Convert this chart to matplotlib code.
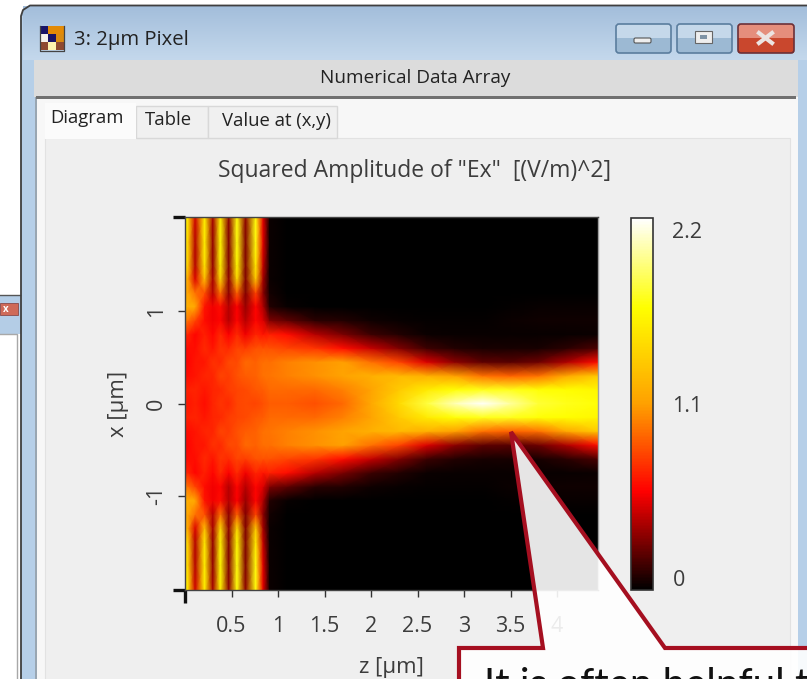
import numpy as np
import matplotlib
matplotlib.use("Agg")
import matplotlib.pyplot as plt
from matplotlib.colors import LinearSegmentedColormap
from matplotlib.patches import FancyBboxPatch, Polygon, Rectangle

W, H = 807, 679

# valeurs : amplitude au carré, moitié haute du champ (x >= 0)
z_nodes = [0.0, 0.03, 0.11, 0.21, 0.30, 0.38, 0.47, 0.56, 0.65, 0.76, 0.84, 0.91,
           1.1, 1.4, 1.7, 2.0, 2.3, 2.6, 2.9, 3.2, 3.5, 3.8, 4.1, 4.44]
x_nodes = [0.0, 0.15, 0.3, 0.45, 0.6, 0.75, 0.9, 1.05, 1.2, 1.35, 1.5, 1.75, 2.02]
field_half = [
    [.70, .65, .68, .62, .70, .75, .72, .80, .82, .80, .84, .88, .88, .84, .92, 1.15, 1.45, 1.8, 2.05, 2.2, 2.0, 1.78, 1.72, 1.68],
    [.72, .68, .70, .66, .70, .72, .78, .80, .82, .86, .88, .92, .92, .92, 1.0, 1.12, 1.35, 1.55, 1.68, 1.72, 1.72, 1.68, 1.66, 1.62],
    [.62, .62, .65, .70, .70, .80, .78, .85, .88, .90, .95, .96, 1.0, 1.05, 1.12, 1.2, 1.25, 1.2, 1.1, .95, .90, .95, 1.15, 1.35],
    [.60, .60, .65, .66, .74, .72, .82, .82, .92, .90, .94, .94, 1.0, 1.05, 1.1, .95, .80, .50, .32, .22, .20, .25, .40, .62],
    [.60, .62, .62, .72, .65, .75, .72, .80, .78, .85, .85, .85, .80, .75, .62, .45, .30, .14, .08, .06, .06, .06, .10, .18],
    [.68, .70, .60, .68, .60, .72, .58, .72, .55, .70, .65, .68, .62, .42, .28, .14, .08, .03, .02, .02, .02, .02, .02, .03],
    [1.0, .95, .80, .62, .55, .60, .42, .60, .42, .60, .50, .30, .22, .10, .08, .04, .02, .01, .01, .01, .03, .04, .04, .04],
    [1.25, 1.2, 1.15, .65, .55, .62, .42, .58, .35, .60, .40, .08, .02, 0, 0, 0, 0, 0, 0, 0, .01, .02, .02, .02],
    [1.1, 1.15, .95, .85, .42, .95, .32, .90, .30, .80, .32, .05, 0, 0, 0, 0, 0, 0, 0, 0, 0, 0, 0, 0],
    [1.25, 1.15, .50, 1.3, .38, 1.45, .32, 1.45, .30, 1.35, .38, .03, 0, 0, 0, 0, 0, 0, 0, 0, 0, 0, 0, 0],
    [1.5, 1.4, .42, 1.55, .34, 1.6, .30, 1.65, .30, 1.55, .45, .03, 0, 0, 0, 0, 0, 0, 0, 0, 0, 0, 0, 0],
    [1.5, 1.45, .42, 1.6, .34, 1.65, .30, 1.7, .30, 1.7, .52, .03, 0, 0, 0, 0, 0, 0, 0, 0, 0, 0, 0, 0],
    [1.55, 1.55, .48, 1.6, .38, 1.6, .32, 1.7, .32, 1.7, .52, .03, 0, 0, 0, 0, 0, 0, 0, 0, 0, 0, 0, 0],
]
z_ticks = [0.5, 1, 1.5, 2, 2.5, 3, 3.5, 4]
z_labels = ["0.5", "1", "1.5", "2", "2.5", "3", "3.5", "4"]
x_ticks = [-1, 0, 1]
x_labels = ["-1", "0", "1"]
cbar_ticks = [0.07, 1.1, 2.13]
cbar_labels = ["0", "1.1", "2.2"]
vmax = 2.2

title = 'Squared Amplitude of "Ex"  [(V/m)^2]'
window_title = "3: 2µm Pixel"
panel_title = "Numerical Data Array"
tabs = ["Diagram", "Table", "Value at (x,y)"]
callout = "It is often helpful to"

plt.rcParams["font.family"] = ["Open Sans", "DejaVu Sans"]
text_col = "#3c3c3c"


def px_axes(fig, left, top, right, bottom, **kw):
    return fig.add_axes([left / W, 1 - bottom / H, (right - left) / W, (bottom - top) / H], **kw)


fig = plt.figure(figsize=(W / 100, H / 100), dpi=100, facecolor="white")

# fond : la fenêtre en coordonnées pixels
bg = px_axes(fig, 0, 0, W, H, zorder=0)
bg.set_axis_off()

# fenêtre derrière, à gauche
bg.add_patch(Rectangle((0, 295), 21, 39, fc="#b4cde6", ec="none"))
bg.plot([0, 20], [294.5, 294.5], color="#555555", lw=1)
bg.add_patch(Rectangle((0, 303), 18, 12, fc="#cf6a58", ec="#8a4a4a", lw=0.6))
bg.text(6, 309, "x", color="white", fontsize=7, weight="bold", ha="center", va="center")
bg.add_patch(Rectangle((-2, 334), 19, 350, fc="white", ec="#a8a8a8", lw=1))

# cadre bleu
grad = np.linspace(0, 1, 64).reshape(-1, 1)
frame_cmap = LinearSegmentedColormap.from_list("frame", ["#a3bedb", "#c4d8ec"])
bg.add_patch(Rectangle((21, 15), W, H, fc="#b6cfe8", ec="none"))
bg.add_patch(Rectangle((30, 5), W, 12, fc="#a3bedb", ec="none"))
bg.add_patch(Polygon([(21, 16), (23, 10), (30, 5), (30, 16)], fc="#a3bedb", ec="none"))
bg.imshow(grad, cmap=frame_cmap, extent=(23, W, 60, 6), aspect="auto", zorder=1.5)
bg.plot([21, 21, 23, 30, W], [H, 16, 10, 5.5, 5.5], color="#3f3f3f", lw=1.3, zorder=3)
bg.add_patch(Rectangle((37, 60), 761, H, fc="#f7f7f7", ec="none", zorder=2))
bg.add_patch(Rectangle((34.5, 60), 2.5, H, fc="#8e959c", ec="none", zorder=2, alpha=0.7))
bg.add_patch(Rectangle((34, 60), 764, 37, fc="#dcdcdc", ec="none", zorder=2))
bg.add_patch(Rectangle((36, 96), 760, 3, fc="#707070", ec="none", zorder=2))
bg.add_patch(Rectangle((45, 138), 745, H, fc="#efefef", ec="#e2e2e2", lw=0.8, zorder=2))

# onglets
for (x0, y0, x1), label, cx, cy in zip([(136, 106, 208), (208, 106, 337)], tabs[1:], [168, 276], [120, 121]):
    bg.add_patch(Rectangle((x0, y0), x1 - x0, 138 - y0, fc="#f0f0f0", ec="#d8d8d8", lw=1, zorder=2.5))
    bg.text(cx, cy, label, fontsize=13.3, color="#222222", ha="center", va="center", zorder=4)
bg.add_patch(Rectangle((45, 103), 91, 36, fc="#fbfbfb", ec="none", zorder=2.6))
bg.text(87, 118, tabs[0], fontsize=13.3, color="#222222", ha="center", va="center", zorder=4)

# boutons de la barre de titre
buttons = [(616, 671, "#c5d8ea", "#9cb9d3", "#5a7d9e"),
           (677, 732, "#c5d8ea", "#9cb9d3", "#5a7d9e"),
           (738, 794, "#e58e7c", "#c9472d", "#6b3038")]
for x0, x1, top_col, low_col, edge in buttons:
    bg.add_patch(Rectangle((x0, 24), x1 - x0, 14, fc=top_col, ec="none", zorder=3))
    bg.add_patch(Rectangle((x0, 38), x1 - x0, 15, fc=low_col, ec="none", zorder=3))
    bg.add_patch(FancyBboxPatch((x0, 24), x1 - x0, 29, boxstyle="round,pad=0,rounding_size=3",
                                fc="none", ec=edge, lw=1.2, zorder=3.2))
bg.add_patch(FancyBboxPatch((634, 38), 17, 5, boxstyle="round,pad=0,rounding_size=1.5",
                            fc="#eeeeee", ec="#555555", lw=0.8, zorder=4))
bg.add_patch(Rectangle((695, 31), 17, 12, fc="#eeeeee", ec="#666666", lw=0.8, zorder=4))
bg.add_patch(Rectangle((700, 35), 7, 4, fc="#7f93a5", ec="none", zorder=4.1))
bg.plot([759, 772], [33, 43], color="#ece4e2", lw=3, zorder=4)
bg.plot([759, 772], [43, 33], color="#ece4e2", lw=3, zorder=4)

# icône et titres
icon_cols = [["#1a1466", "#e38a05", "#e38a05"],
             ["#f5f2ea", "#1a1466", "#d98a10"],
             ["#8f4a30", "#fdf3b0", "#8f4a30"]]
for i, row in enumerate(icon_cols):
    for j, col in enumerate(row):
        bg.add_patch(Rectangle((40 + j * 8, 26 + i * 8), 8, 8, fc=col, ec="none", zorder=4))
bg.plot([40, 40, 64, 64], [26, 51, 51, 26], color="#444444", lw=0.9, zorder=4)
bg.text(74, 40, window_title, fontsize=14.6, color="#222222", va="center", zorder=4)
bg.text(415, 78, panel_title, fontsize=13.7, color="#222222", ha="center", va="center", zorder=4)
bg.text(415, 171, title, fontsize=16.5, color=text_col, ha="center", va="center", zorder=4)
bg.set_xlim(0, W)
bg.set_ylim(H, 0)

# carte de champ
colors = [(0, "#000000"), (0.265, "#ff0000"), (0.5, "#ffa000"), (0.76, "#ffff00"), (1, "#ffffff")]
cmap = LinearSegmentedColormap.from_list("champ", colors)

half = np.array(field_half)
x_all = np.concatenate([-np.array(x_nodes[:0:-1]), x_nodes])
field = np.vstack([half[:0:-1], half])

ax = px_axes(fig, 185, 217, 598, 590, zorder=1)
mesh = ax.pcolormesh(z_nodes, x_all, field, cmap=cmap, vmin=0, vmax=vmax,
                     shading="gouraud", rasterized=True)
ax.set_xlim(0, 4.44)
ax.set_ylim(-2.02, 2.02)
ax.set_xticks(z_ticks, z_labels)
ax.set_yticks(x_ticks, x_labels)
ax.tick_params(axis="x", length=5, width=1, color="#333333", labelsize=15.5, labelcolor=text_col, pad=14)
ax.tick_params(axis="y", length=5, width=1, color="#333333", labelsize=15.5, labelcolor=text_col, pad=8)
for lab in ax.get_yticklabels():
    lab.set_rotation(90)
    lab.set_va("center")
ax.set_xticks([0], minor=True)
ax.set_yticks([-2.02, 2.02], minor=True)
ax.tick_params(which="minor", length=9, width=2.4, color="#111111")
for name, spine in ax.spines.items():
    spine.set_linewidth(1)
    spine.set_color("#444444" if name != "right" else "#a0a0a0")
ax.set_xlabel("z [µm]", fontsize=16, color=text_col, labelpad=14)
ax.set_ylabel("x [µm]", fontsize=16, color=text_col, labelpad=12)

# barre de couleurs
cax = px_axes(fig, 631, 218, 653, 590, zorder=1)
cbar = fig.colorbar(mesh, cax=cax)
cbar.set_ticks(cbar_ticks, labels=cbar_labels)
cbar.ax.tick_params(length=0, labelsize=15.5, labelcolor=text_col, pad=14)
cbar.outline.set_edgecolor("#333333")
cbar.outline.set_linewidth(1.2)

# bulle par-dessus le graphique
top = px_axes(fig, 0, 0, W, H, zorder=5)
top.set_axis_off()
top.patch.set_alpha(0)
shape = [(459, 648), (543, 648), (511, 432), (665, 648), (830, 648), (830, 700), (459, 700)]
top.add_patch(Polygon(shape, closed=True, fc=(1, 1, 1, 0.9), ec="#a50f20", lw=3, joinstyle="miter"))
top.text(484, 667, callout, fontsize=29, family="Lato", color="#111111", va="top", clip_on=True)
top.set_xlim(0, W)
top.set_ylim(H, 0)

fig.savefig("out.png", dpi=100)
